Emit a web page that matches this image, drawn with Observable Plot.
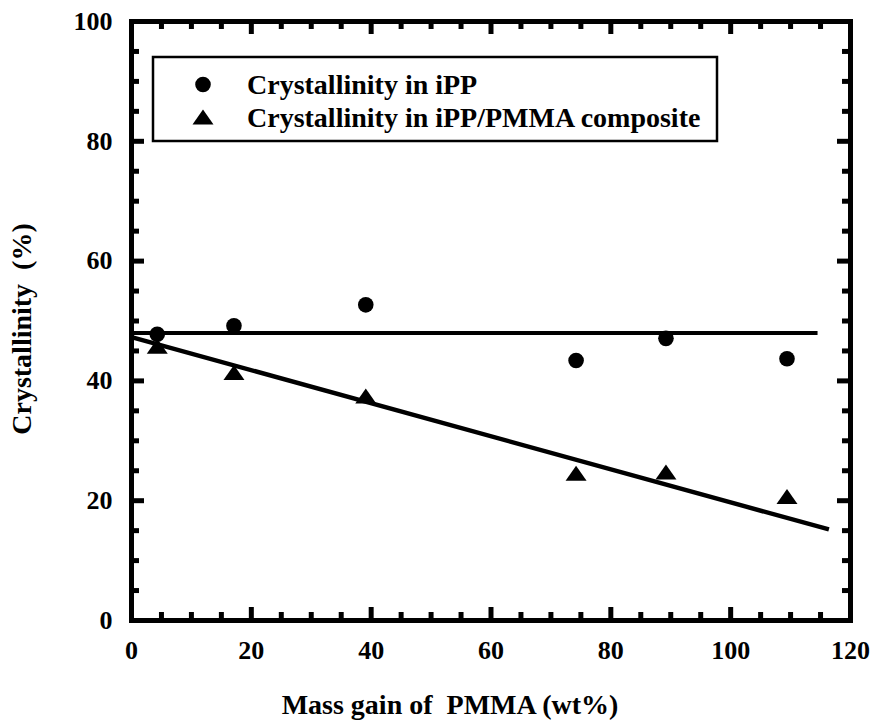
<!DOCTYPE html>
<html>
<head>
<meta charset="utf-8">
<script src="https://cdn.jsdelivr.net/npm/d3@7"></script>
<script src="https://cdn.jsdelivr.net/npm/@observablehq/plot@0.6"></script>
<style>
  html, body { margin: 0; padding: 0; background: #fff; }
  svg text { white-space: pre; }
</style>
</head>
<body>
<div id="chart"></div>
<script>
// ---- data ----
const massGain = [4.3, 17.1, 39.1, 74.2, 89.2, 109.4];
const crystIPP = [47.8, 49.2, 52.7, 43.4, 47.1, 43.7];
const crystComposite = [45.8, 41.4, 37.5, 24.6, 24.8, 20.7];

const fitIPPx = [0, 114.5];
const fitIPPy = [48.0, 48.0];
const fitCompx = [0, 116.4];
const fitCompy = [47.3, 15.2];

const xMajor = [0, 20, 40, 60, 80, 100, 120];
const xMinor = [5, 10, 15, 25, 30, 35, 45, 50, 55, 65, 70, 75, 85, 90, 95, 105, 110, 115];
const yMajor = [0, 20, 40, 60, 80, 100];
const yMinor = [5, 10, 15, 25, 30, 35, 45, 50, 55, 65, 70, 75, 85, 90, 95];

const seriesNames = ["Crystallinity in iPP", "Crystallinity in iPP/PMMA composite"];
const xLabel = "Mass gain of  PMMA (wt%)";
const yLabel = "Crystallinity  (%)";

// ---- build tables ----
const ippPts = massGain.map((x, i) => ({x, y: crystIPP[i]}));
const compPts = massGain.map((x, i) => ({x, y: crystComposite[i]}));
const ippFit = fitIPPx.map((x, i) => ({x, y: fitIPPy[i]}));
const compFit = fitCompx.map((x, i) => ({x, y: fitCompy[i]}));

const W = 875, H = 727;
const mL = 131, mR = 25, mT = 21, mB = 107;
const iw = W - mL - mR, ih = H - mT - mB;

const triangle = {
  draw(context, size) {
    const r = Math.sqrt(size / Math.PI);
    const w = r * 1.4, h = r * 2;
    context.moveTo(0, -h / 2);
    context.lineTo(w, h / 2);
    context.lineTo(-w, h / 2);
    context.closePath();
  }
};

const font = "'Liberation Serif', 'Times New Roman', serif";
const minorLen = 8, majorLen = 13, tickW = 5;

const svg = Plot.plot({
  width: W,
  height: H,
  marginLeft: mL, marginRight: mR, marginTop: mT, marginBottom: mB,
  style: {fontFamily: font, fontWeight: "bold", color: "#000", background: "#fff"},
  x: {domain: [0, 120]},
  y: {domain: [0, 100]},
  marks: [
    // tick labels
    Plot.axisX({ticks: xMajor, tickSize: 0, tickPadding: 20, fontSize: 26, fontWeight: "bold", fontFamily: font, label: null}),
    Plot.axisY({ticks: yMajor, tickSize: 0, tickPadding: 19, fontSize: 26, fontWeight: "bold", fontFamily: font, label: null}),
    // inward ticks, bottom / top
    Plot.tickX(xMinor, {x: d => d, insetTop: ih - minorLen, strokeWidth: tickW}),
    Plot.tickX(xMajor, {x: d => d, insetTop: ih - majorLen, strokeWidth: tickW}),
    Plot.tickX(xMinor, {x: d => d, insetBottom: ih - minorLen, strokeWidth: tickW}),
    Plot.tickX(xMajor, {x: d => d, insetBottom: ih - majorLen, strokeWidth: tickW}),
    // inward ticks, left / right
    Plot.tickY(yMinor, {y: d => d, insetRight: iw - minorLen, strokeWidth: tickW}),
    Plot.tickY(yMajor, {y: d => d, insetRight: iw - majorLen, strokeWidth: tickW}),
    Plot.tickY(yMinor, {y: d => d, insetLeft: iw - minorLen, strokeWidth: tickW}),
    Plot.tickY(yMajor, {y: d => d, insetLeft: iw - majorLen, strokeWidth: tickW}),
    Plot.frame({stroke: "#000", strokeWidth: 5}),
    // fitted lines
    Plot.line(ippFit, {x: "x", y: "y", stroke: "#000", strokeWidth: 4, strokeLinecap: "butt"}),
    Plot.line(compFit, {x: "x", y: "y", stroke: "#000", strokeWidth: 4.5, strokeLinecap: "butt"}),
    // data points
    Plot.dot(ippPts, {x: "x", y: "y", r: 7.8, fill: "#000", stroke: "none", symbol: "circle"}),
    Plot.dot(compPts, {x: "x", y: "y", r: 7.5, fill: "#000", stroke: "none", symbol: triangle}),
    // axis titles
    Plot.text([xLabel], {frameAnchor: "bottom", textAnchor: "middle", lineAnchor: "middle", dx: -41, dy: 85,
      fontSize: 28, fontWeight: "bold", fontFamily: font, fill: "#000"}),
    Plot.text([yLabel], {frameAnchor: "left", textAnchor: "middle", lineAnchor: "middle", rotate: -90, dx: -109, dy: 8,
      fontSize: 28, fontWeight: "bold", fontFamily: font, fill: "#000"})
  ]
});

// ---- legend inside the plot area (pixel placement) ----
const g = d3.select(svg).append("g").attr("class", "legend");
g.append("rect")
  .attr("x", 153).attr("y", 57).attr("width", 564).attr("height", 84)
  .attr("fill", "#fff").attr("stroke", "#000").attr("stroke-width", 2.5);
const rows = [
  {name: seriesNames[0], sym: d3.symbolCircle, size: Math.PI * 7.8 * 7.8, cy: 84.5},
  {name: seriesNames[1], sym: triangle, size: Math.PI * 7.5 * 7.5, cy: 117}
];
rows.forEach(r => {
  g.append("path")
    .attr("d", d3.symbol(r.sym, r.size)())
    .attr("transform", `translate(203,${r.cy})`)
    .attr("fill", "#000");
  g.append("text")
    .attr("x", 247).attr("y", r.cy + 9.5)
    .attr("text-anchor", "start")
    .attr("font-family", font).attr("font-weight", "bold").attr("font-size", 28)
    .attr("fill", "#000")
    .text(r.name);
});

document.getElementById("chart").appendChild(svg);
</script>
</body>
</html>
